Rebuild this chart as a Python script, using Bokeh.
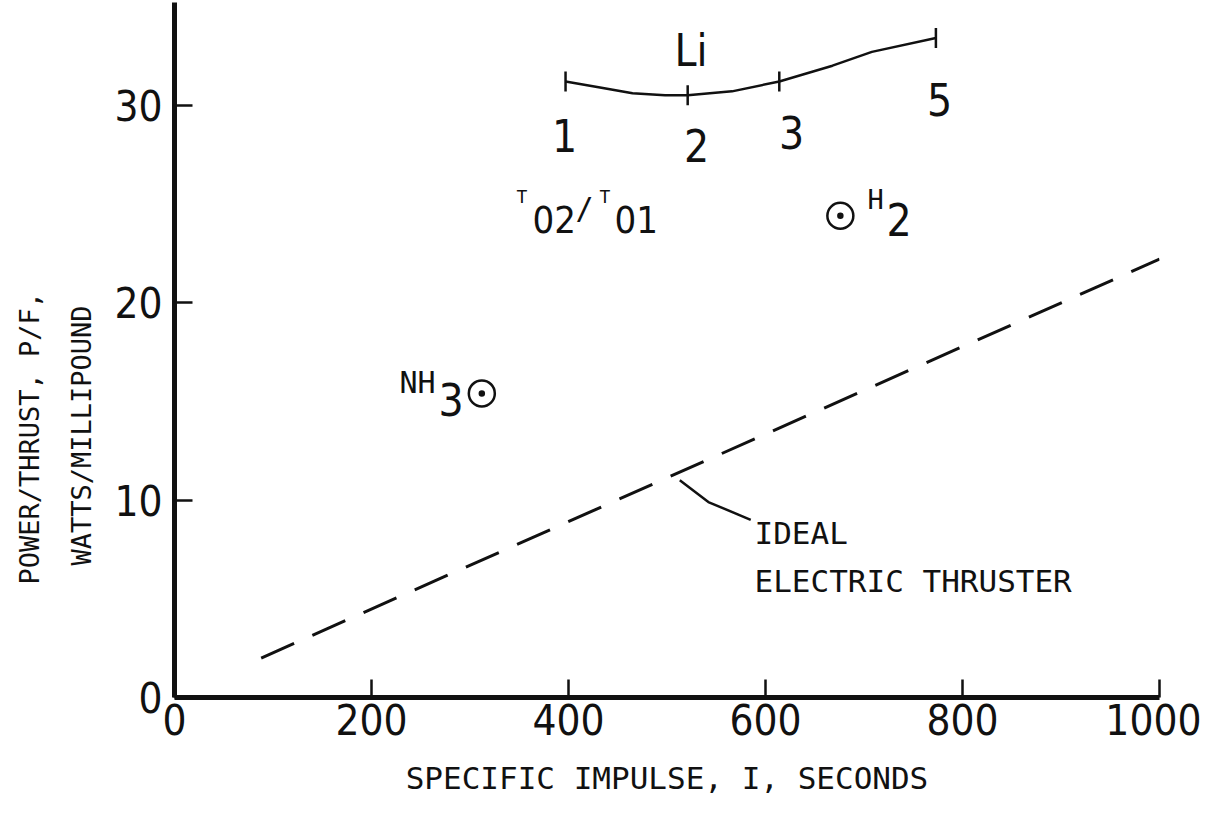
import math
from bokeh.plotting import figure
from bokeh.models import Label, FixedTicker, Range1d, Title
from bokeh.embed import file_html
from bokeh.resources import INLINE

# ---- data ----
x_ticks = [0, 200, 400, 600, 800, 1000]
y_ticks = [0, 10, 20, 30]

# ideal electric thruster (dashed line)
ideal_isp = [88, 1000]
ideal_pf = [2.0, 22.2]

# leader from the dashed line to its label
leader_x = [513, 542, 585]
leader_y = [11.0, 9.9, 9.0]

# Li curve for T02/T01 = 1, 2, 3, 5
li_curve_x = [397, 432, 465, 498, 521, 566, 614, 668, 708, 773]
li_curve_y = [31.2, 30.9, 30.6, 30.5, 30.5, 30.7, 31.2, 32.0, 32.7, 33.4]
li_pts_x = [397, 521, 614, 773]
li_pts_y = [31.2, 30.5, 31.2, 33.4]
li_pts_lab = ["1", "2", "3", "5"]

# propellant points
prop_names = ["NH3", "H2"]
prop_isp = [312, 676]
prop_pf = [15.4, 24.4]

INK = "#111111"
MONO = "DejaVu Sans Mono"
NARROW = "DejaVu Sans Condensed, Roboto"

p = figure(width=1201, height=808, output_backend="svg", toolbar_location=None,
           x_range=Range1d(0, 1000), y_range=Range1d(0, 35.2),
           min_border_left=174, min_border_right=42, min_border_top=2,
           min_border_bottom=111)
p.outline_line_color = None
p.xgrid.visible = False
p.ygrid.visible = False
p.background_fill_color = "white"
p.border_fill_color = "white"

for ax, ticks in ((p.xaxis[0], x_ticks), (p.yaxis[0], y_ticks)):
    ax.ticker = FixedTicker(ticks=ticks)
    ax.axis_line_width = 5
    ax.axis_line_color = INK
    ax.major_tick_in = 18
    ax.major_tick_out = 0
    ax.major_tick_line_width = 2.5
    ax.major_tick_line_color = INK
    ax.minor_tick_line_color = None
    ax.major_label_text_font = NARROW
    ax.major_label_text_font_size = "42px"
    ax.major_label_text_color = INK
p.xaxis[0].major_label_standoff = 6
p.yaxis[0].major_label_standoff = 12

p.xaxis[0].axis_label = "SPECIFIC IMPULSE, I, SECONDS"
p.xaxis[0].axis_label_text_font = MONO
p.xaxis[0].axis_label_text_font_size = "31px"
p.xaxis[0].axis_label_text_font_style = "normal"
p.xaxis[0].axis_label_text_color = INK
p.xaxis[0].axis_label_standoff = 22

# y-axis title, two lines (nearest to axis first); offset from frame bottom
p.add_layout(Title(text="WATTS/MILLIPOUND", align="left", offset=132,
                   text_font=MONO, text_font_size="27px",
                   text_font_style="normal", text_color=INK, standoff=30), "left")
p.add_layout(Title(text="POWER/THRUST, P/F,", align="left", offset=113,
                   text_font=MONO, text_font_size="27px",
                   text_font_style="normal", text_color=INK, standoff=8), "left")

# dashed ideal line
p.line(ideal_isp, ideal_pf, line_color=INK, line_width=3, line_dash="36 20")
p.line(leader_x, leader_y, line_color=INK, line_width=2.5)

# Li curve
p.line(li_curve_x, li_curve_y, line_color=INK, line_width=2.5)
p.scatter(li_pts_x, li_pts_y, marker="dash", angle=math.pi / 2, size=20,
          line_color=INK, line_width=2.5)

# propellant symbols
p.scatter(prop_isp, prop_pf, marker="circle_dot", size=26, fill_color=None,
          line_color=INK, line_width=2.5)

def X(px):
    return (px - 182) / 0.985

def Y(py):
    return (705 - py) / 19.75

def lab(text, px, py, font, size, align="left", baseline="alphabetic", angle=0):
    p.add_layout(Label(x=X(px), y=Y(py), text=text, text_font=font,
                       text_font_size=size, text_align=align,
                       text_baseline=baseline, angle=angle, text_color=INK))

# curve point labels
lab_px = [572, 704, 799, 947]
lab_py = [143, 153, 140, 107]
for t, px, py in zip(li_pts_lab, lab_px, lab_py):
    lab(t, px, py, NARROW, "44px", align="center")
lab("Li", 682, 58, NARROW, "44px")

# T02/T01
lab("T", 524, 204, MONO, "18px")
lab("02", 540, 227, NARROW, "38px")
lab("/", 583, 216, MONO, "30px")
lab("T", 607, 204, MONO, "18px")
lab("01", 622, 227, NARROW, "38px")

# NH3 and H2 labels
lab("NH", 407, 390, MONO, "30px")
lab("3", 446, 407, NARROW, "44px")
lab("H", 875, 207, MONO, "27px")
lab("2", 894, 227, NARROW, "44px")

# ideal thruster label
lab("IDEAL", 762, 540, MONO, "31px")
lab("ELECTRIC THRUSTER", 762, 588, MONO, "31px")

open("out.html", "w").write(file_html(p, INLINE))
